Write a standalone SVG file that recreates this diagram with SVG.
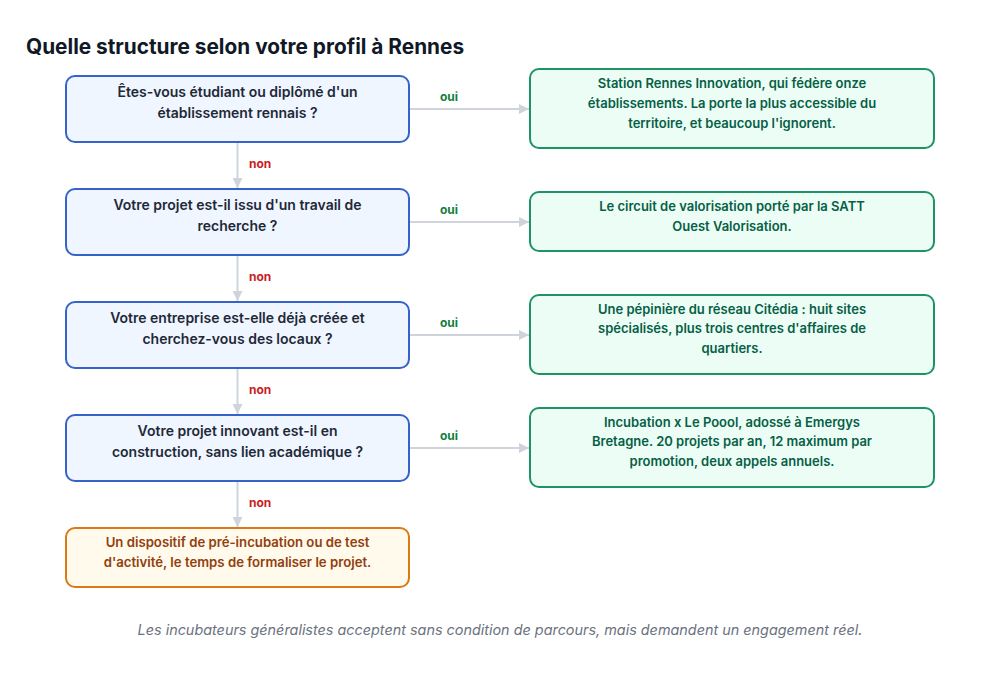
<svg xmlns="http://www.w3.org/2000/svg" width="1000" height="687" viewBox="0 0 1000 687">
<defs>
<marker id="arr" viewBox="0 0 10 10" refX="10" refY="5" markerWidth="10" markerHeight="10" markerUnits="userSpaceOnUse" orient="auto">
<path d="M0,0 L10,5 L0,10 Z" fill="#cfd4dc"/>
</marker>
<style>
text{font-family:Inter,"Noto Sans","Liberation Sans",sans-serif;}
.title{font-size:20.8px;font-weight:700;fill:#111827;}
.q{fill:#eff6ff;stroke:#3563c9;stroke-width:2;}
.a{fill:#ecfdf5;stroke:#1e9365;stroke-width:2;}
.o{fill:#fffaeb;stroke:#d97a16;stroke-width:2;}
.qt{font-size:14px;font-weight:600;fill:#1f2937;text-anchor:middle;}
.at{font-size:13px;font-weight:600;fill:#065f46;text-anchor:middle;}
.ot{font-size:13.2px;font-weight:600;fill:#92400e;text-anchor:middle;}
.edge{stroke:#cfd4dc;stroke-width:2;fill:none;marker-end:url(#arr);}
.yes{font-size:12px;font-weight:700;fill:#15803d;}
.no{font-size:12px;font-weight:700;fill:#c81e1e;}
.note{font-size:14.4px;font-style:italic;fill:#6b7280;text-anchor:middle;}
</style>
</defs>
<rect width="1000" height="687" fill="#ffffff"/>
<text class="title" x="26" y="54">Quelle structure selon votre profil à Rennes</text>

<g id="connectors">
<line class="edge" x1="410" y1="109" x2="529" y2="109"/>
<line class="edge" x1="410" y1="222" x2="529" y2="222"/>
<line class="edge" x1="410" y1="335" x2="529" y2="335"/>
<line class="edge" x1="410" y1="448" x2="529" y2="448"/>
<line class="edge" x1="237.5" y1="143" x2="237.5" y2="188"/>
<line class="edge" x1="237.5" y1="256" x2="237.5" y2="301"/>
<line class="edge" x1="237.5" y1="369" x2="237.5" y2="414"/>
<line class="edge" x1="237.5" y1="482" x2="237.5" y2="527"/>
<text class="yes" x="440" y="101">oui</text>
<text class="yes" x="440" y="214">oui</text>
<text class="yes" x="440" y="327">oui</text>
<text class="yes" x="440" y="440">oui</text>
<text class="no" x="249" y="168">non</text>
<text class="no" x="249" y="281">non</text>
<text class="no" x="249" y="394">non</text>
<text class="no" x="249" y="507">non</text>
</g>

<g id="q1">
<rect class="q" x="66" y="76" width="343" height="66" rx="9"/>
<text class="qt" x="237.5" y="97">Êtes-vous étudiant ou diplômé d'un</text>
<text class="qt" x="237.5" y="118">établissement rennais ?</text>
</g>
<g id="q2">
<rect class="q" x="66" y="189" width="343" height="66" rx="9"/>
<text class="qt" x="237.5" y="210">Votre projet est-il issu d'un travail de</text>
<text class="qt" x="237.5" y="231">recherche ?</text>
</g>
<g id="q3">
<rect class="q" x="66" y="302" width="343" height="66" rx="9"/>
<text class="qt" x="237.5" y="323">Votre entreprise est-elle déjà créée et</text>
<text class="qt" x="237.5" y="344">cherchez-vous des locaux ?</text>
</g>
<g id="q4">
<rect class="q" x="66" y="415" width="343" height="66" rx="9"/>
<text class="qt" x="237.5" y="436">Votre projet innovant est-il en</text>
<text class="qt" x="237.5" y="457">construction, sans lien académique ?</text>
</g>
<g id="fallback">
<rect class="o" x="66" y="528" width="343" height="59" rx="9"/>
<text class="ot" x="237.5" y="547">Un dispositif de pré-incubation ou de test</text>
<text class="ot" x="237.5" y="567">d'activité, le temps de formaliser le projet.</text>
</g>

<g id="r1">
<rect class="a" x="530" y="69" width="404" height="79" rx="9"/>
<text class="at" x="732" y="88">Station Rennes Innovation, qui fédère onze</text>
<text class="at" x="732" y="108">établissements. La porte la plus accessible du</text>
<text class="at" x="732" y="128">territoire, et beaucoup l'ignorent.</text>
</g>
<g id="r2">
<rect class="a" x="530" y="192" width="404" height="59" rx="9"/>
<text class="at" x="732" y="211">Le circuit de valorisation porté par la SATT</text>
<text class="at" x="732" y="231">Ouest Valorisation.</text>
</g>
<g id="r3">
<rect class="a" x="530" y="295" width="404" height="79" rx="9"/>
<text class="at" x="732" y="314">Une pépinière du réseau Citédia : huit sites</text>
<text class="at" x="732" y="333">spécialisés, plus trois centres d'affaires de</text>
<text class="at" x="732" y="353">quartiers.</text>
</g>
<g id="r4">
<rect class="a" x="530" y="408" width="404" height="79" rx="9"/>
<text class="at" x="732" y="427">Incubation x Le Poool, adossé à Emergys</text>
<text class="at" x="732" y="446">Bretagne. 20 projets par an, 12 maximum par</text>
<text class="at" x="732" y="466">promotion, deux appels annuels.</text>
</g>

<text class="note" x="500" y="635">Les incubateurs généralistes acceptent sans condition de parcours, mais demandent un engagement réel.</text>
</svg>
